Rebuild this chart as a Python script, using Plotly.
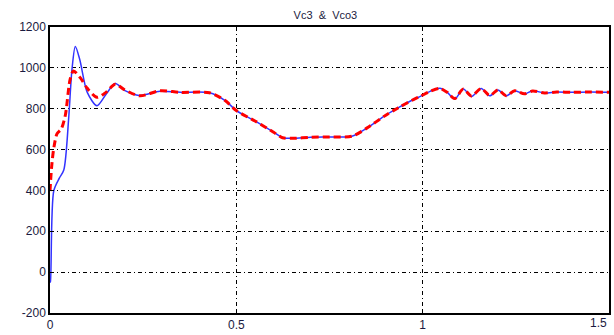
import plotly.graph_objects as go

# Vc3 (blue, solid)
t_vc3 = [0.0, 0.001, 0.01, 0.025, 0.037, 0.05, 0.059, 0.068, 0.08, 0.1, 0.126, 0.15, 0.175, 0.2, 0.24, 0.295, 0.35, 0.428,
         0.47, 0.5, 0.55, 0.6, 0.624, 0.65, 0.7, 0.75, 0.81, 0.85, 0.9, 0.935, 0.97, 0.995, 1.02,
         1.046, 1.066, 1.086, 1.109, 1.131, 1.157, 1.18, 1.202, 1.224, 1.247, 1.273, 1.295, 1.327, 1.36, 1.4, 1.45, 1.5]
v_vc3 = [-50, -48, 397, 460, 500, 750, 993, 1105, 1040, 880, 815, 870, 923, 890, 865, 885, 880, 878,
         840, 791, 740, 685, 658, 655, 660, 662, 665, 705, 767, 805, 840, 862, 885,
         900, 880, 847, 896, 860, 899, 863, 892, 863, 888, 872, 888, 877, 882, 880, 882, 880]

# Vco3 (red, dashed)
t_vco3 = [0.0, 0.004, 0.01, 0.019, 0.03, 0.041, 0.054, 0.063, 0.081, 0.1, 0.126, 0.15, 0.175, 0.2, 0.241, 0.295, 0.35, 0.428,
          0.47, 0.5, 0.55, 0.6, 0.624, 0.65, 0.7, 0.75, 0.81, 0.85, 0.9, 0.935, 0.97, 0.995, 1.02,
          1.046, 1.066, 1.086, 1.109, 1.131, 1.157, 1.18, 1.202, 1.224, 1.247, 1.273, 1.295, 1.327, 1.36, 1.4, 1.45, 1.5]
v_vco3 = [397, 508, 605, 678, 700, 767, 944, 985, 952, 900, 856, 880, 920, 893, 863, 888, 880, 878,
          840, 791, 740, 685, 658, 655, 660, 662, 665, 705, 767, 805, 840, 862, 885,
          899, 880, 850, 896, 862, 899, 864, 892, 864, 888, 873, 887, 877, 882, 880, 882, 880]

x_ticks = [0, 0.5, 1]
x_labels = ["0", "0.5", "1"]
x_last_tick = 1.5
x_last_label = "1.5"
y_ticks = [-200, 0, 200, 400, 600, 800, 1000, 1200]
y_labels = ["-200", "0", "200", "400", "600", "800", "1000", "1200"]

fig = go.Figure()
fig.add_trace(go.Scatter(x=t_vc3, y=v_vc3, mode="lines",
                         line=dict(color="#3333ff", width=1.5, shape="spline", smoothing=0.8),
                         name="Vc3"))
fig.add_trace(go.Scatter(x=t_vco3, y=v_vco3, mode="lines",
                         line=dict(color="#ff0000", width=3, dash="7px,4px", shape="spline", smoothing=0.8),
                         name="Vco3"))

tfont = dict(family="Liberation Sans, Arial", size=12, color="#1a1a40")
axis_common = dict(showline=True, linecolor="black", linewidth=1.5, mirror=True,
                   showgrid=True, gridcolor="black", gridwidth=1, griddash="4px,3px,1px,3px",
                   ticks="inside", ticklen=4, tickcolor="black", zeroline=False,
                   tickfont=tfont)

fig.update_layout(
    width=614, height=335,
    margin=dict(l=50, r=3, t=27, b=19),
    paper_bgcolor="white", plot_bgcolor="white",
    showlegend=False,
    title=dict(text="Vc3  &  Vco3", x=0.53, xanchor="center", y=0.955, yanchor="middle",
               font=dict(family="Liberation Sans, Arial", size=11, color="#1a1a40")),
    xaxis=dict(range=[0, 1.5], tickvals=x_ticks, ticktext=x_labels, **axis_common),
    yaxis=dict(range=[-200, 1200], tickvals=y_ticks, ticktext=y_labels, **axis_common),
)
fig.add_annotation(x=x_last_tick, xref="x", y=0, yref="paper", text=x_last_label, showarrow=False,
                   xanchor="right", yanchor="top", yshift=-1, font=tfont)

post = "document.body.style.margin='0';document.body.style.overflow='hidden';"
fig.write_html("out.html", config={"displayModeBar": False}, post_script=post)
